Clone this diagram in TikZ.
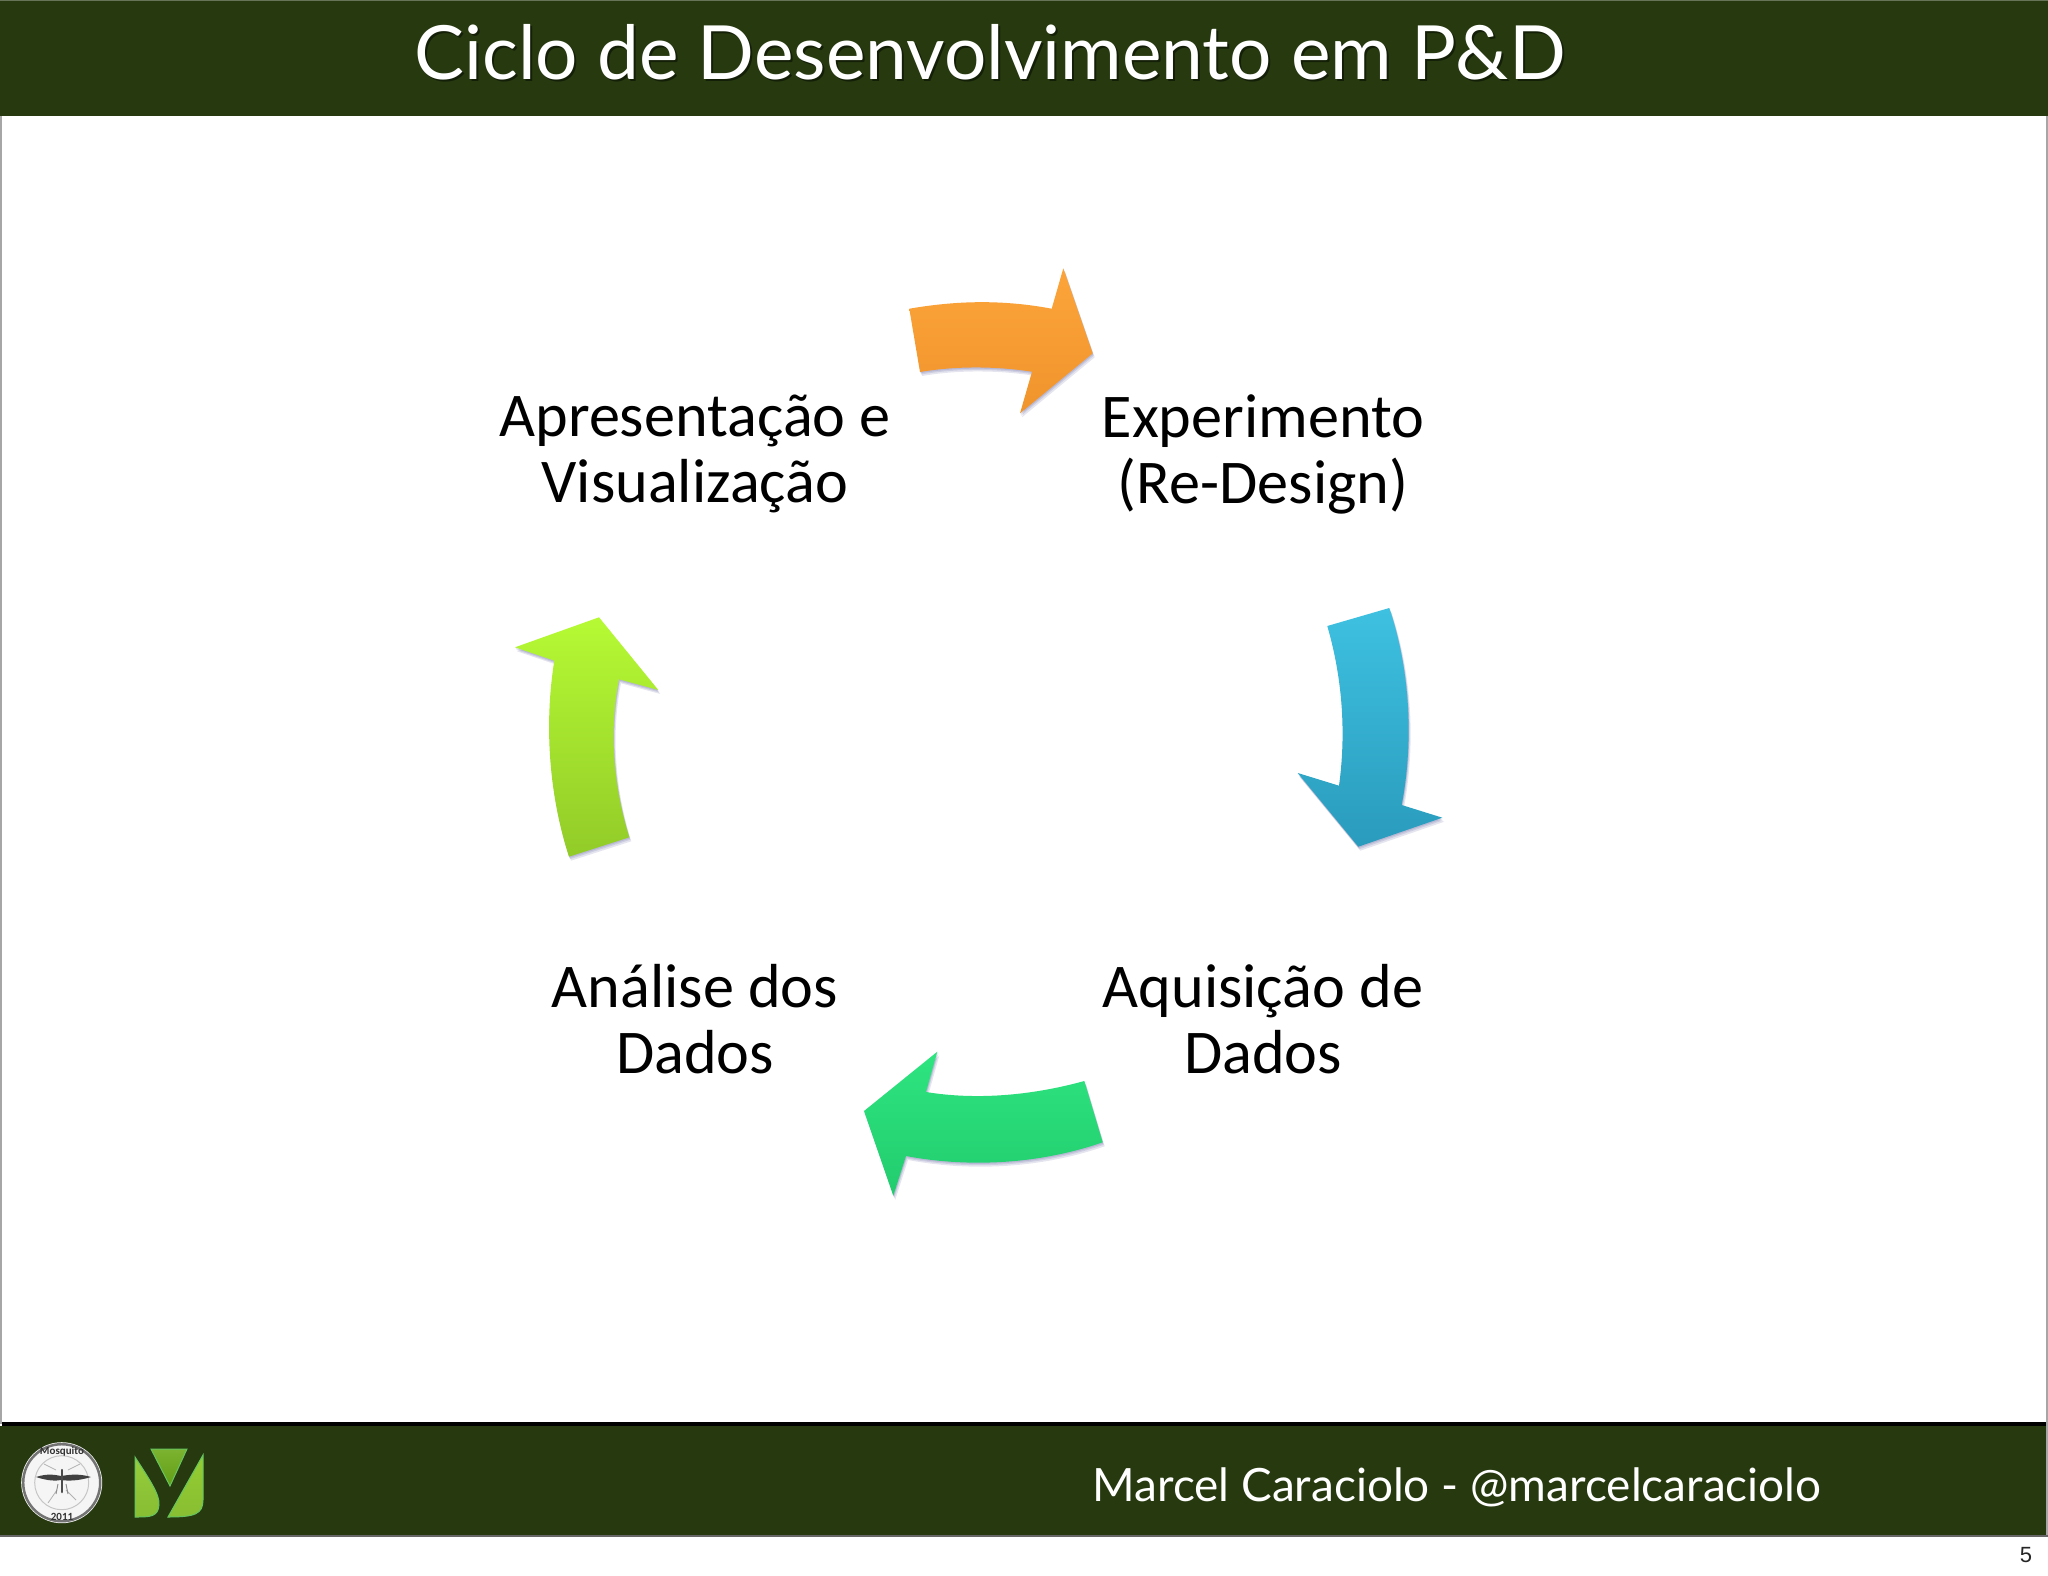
\documentclass[tikz,border=0pt]{standalone}
\usepackage{fontspec}
\setmainfont{Carlito}
\newfontfamily\gill{Lato}
\newfontfamily\pagefont{Liberation Sans}
\definecolor{band}{HTML}{26390F}
\tikzset{
  label text/.style={align=center,font=\fontsize{62.2}{66}\selectfont,text=black,inner sep=0pt},
  arrowshadow/.style={fill=black!60!blue,opacity=.10},
}
\newcommand{\orangepath}{(909.3,308.7) .. controls (960,300) and (1005,300) .. (1051.7,308.7) -- (1063.3,268.3) -- (1092.7,353.3) -- (1020,413.3) -- (1032,371.7) .. controls (995,366) and (955,366) .. (920,372) -- cycle}
\newcommand{\bluepath}{(1327.3,626) .. controls (1343,680) and (1346,735) .. (1339,785.7) -- (1297.7,773) -- (1358.3,846.7) -- (1442.3,817.7) -- (1401.7,805) .. controls (1414,740) and (1410,670) .. (1389.3,608) -- cycle}
\newcommand{\greenpath}{(1084.3,1081) .. controls (1030,1096) and (975,1100) .. (926,1092) -- (937.3,1051.7) -- (864,1111) -- (893.3,1195.7) -- (906,1156) .. controls (970,1168) and (1040,1164) .. (1102.7,1142.3) -- cycle}
\newcommand{\limepath}{(629.3,837.3) .. controls (613,785) and (609,730) .. (619,679.3) -- (658.3,690) -- (599,617.3) -- (515,647.3) -- (554.3,660.7) .. controls (544,725) and (549,795) .. (569,856.7) -- cycle}
\begin{document}
\begin{tikzpicture}[x=1pt,y=-1pt]
\useasboundingbox (0,0) rectangle (2048,1576);
\fill[white] (0,0) rectangle (2048,1576);
% slide frame
\draw[gray!70,line width=1.5pt] (1,116) -- (1,1424);
\draw[gray!70,line width=1.5pt] (2047,116) -- (2047,1535);
% header and footer
\fill[band] (0,0) rectangle (2048,116);
\fill[band!70!white] (0,0) rectangle (2048,1.2);
\fill[black] (2,1422) rectangle (2046,1426);
\fill[band] (0,1426) rectangle (2046,1535);
\fill[gray!80!black] (0,1535) rectangle (2048,1537);
% title
\node[inner sep=0pt,text=black,opacity=.45,font=\gill\fontsize{74.8}{80}\selectfont] at (992,54.5) {Ciclo de Desenvolvimento em P\&D};
\node (title) [inner sep=0pt,text=white,font=\gill\fontsize{74.8}{80}\selectfont] at (990,52) {Ciclo de Desenvolvimento em P\&D};
\node (author) [inner sep=0pt,text=white,font=\gill\fontsize{45.9}{54}\selectfont] at (1457,1487) {Marcel Caraciolo - @marcelcaraciolo};
\node (pagenum) [inner sep=0pt,text=black!85,font=\pagefont\fontsize{22}{24}\selectfont] at (2026,1555) {5};
% arrow shadows
\foreach \p in {\orangepath,\bluepath,\greenpath,\limepath}{
  \fill[arrowshadow,shift={(2,4)}] \p;
  \fill[arrowshadow,shift={(1,2.5)}] \p;
  \fill[arrowshadow,shift={(0.5,1.2)}] \p;
}
% arrows
\shade[top color={rgb,255:red,252;green,164;blue,58},bottom color={rgb,255:red,240;green,148;blue,44}] \orangepath;
\shade[top color={rgb,255:red,62;green,193;blue,225},bottom color={rgb,255:red,42;green,155;blue,188}] \bluepath;
\shade[top color={rgb,255:red,46;green,229;blue,128},bottom color={rgb,255:red,34;green,204;blue,110}] \greenpath;
\shade[top color={rgb,255:red,182;green,250;blue,52},bottom color={rgb,255:red,146;green,203;blue,40}] \limepath;
% labels
\node (apresentacao) [label text] at (695,454) {Apresentação e\\Visualização};
\node (experimento) [label text] at (1263,454) {Experimento\\(Re-Design)};
\node (aquisicao) [label text] at (1263,1019) {Aquisição de\\Dados};
\node (analise) [label text] at (695,1019) {Análise dos\\Dados};
% seal logo
\fill[white!92!gray] (61.7,1482.7) circle (40.5);
\draw[black!55,line width=2.5pt] (61.7,1482.7) circle (38.5);
\draw[gray!45,line width=1pt] (61.7,1482.7) circle (27);
\draw[gray!60,line width=.8pt] (57,1490) -- (48,1503) (66,1490) -- (76,1500) (56,1470) -- (44,1464) (68,1470) -- (80,1464);
\fill[black!75] (36,1477) .. controls (48,1473) and (56,1475) .. (61,1476) .. controls (68,1475) and (78,1473) .. (91,1477) .. controls (78,1481) and (68,1481) .. (61,1480) .. controls (56,1481) and (48,1481) .. (36,1477) -- cycle;
\draw[black!70,line width=2.5pt,line cap=round] (62,1470) -- (62,1492);
\draw[black!45,line width=.9pt] (58,1484) -- (56,1494) (66,1484) -- (68,1494);
\node[inner sep=0pt,font=\fontsize{11}{12}\selectfont\bfseries,text=black!80] at (62,1451) {Mosquito};
\node[inner sep=0pt,font=\fontsize{11}{12}\selectfont\bfseries,text=black!80] at (62,1517) {2011};
% Y logo
\begin{scope}[draw=green!50!white!70!band,line width=1pt]
\shade[draw,top color={rgb,255:red,124;green,179;blue,48},bottom color={rgb,255:red,98;green,158;blue,22}] (151,1449) -- (187,1449) -- (170,1486) -- cycle;
\shade[draw,top color={rgb,255:red,148;green,205;blue,62},bottom color={rgb,255:red,136;green,190;blue,50}] (135,1457) .. controls (150,1480) and (160,1495) .. (159,1505) .. controls (158,1517) and (150,1517) .. (135,1517) -- cycle;
\shade[draw,top color={rgb,255:red,148;green,205;blue,50},bottom color={rgb,255:red,136;green,190;blue,50}] (203,1455) -- (203,1500) .. controls (203,1514) and (195,1517) .. (168,1517) -- cycle;
\end{scope}
\end{tikzpicture}
\end{document}
